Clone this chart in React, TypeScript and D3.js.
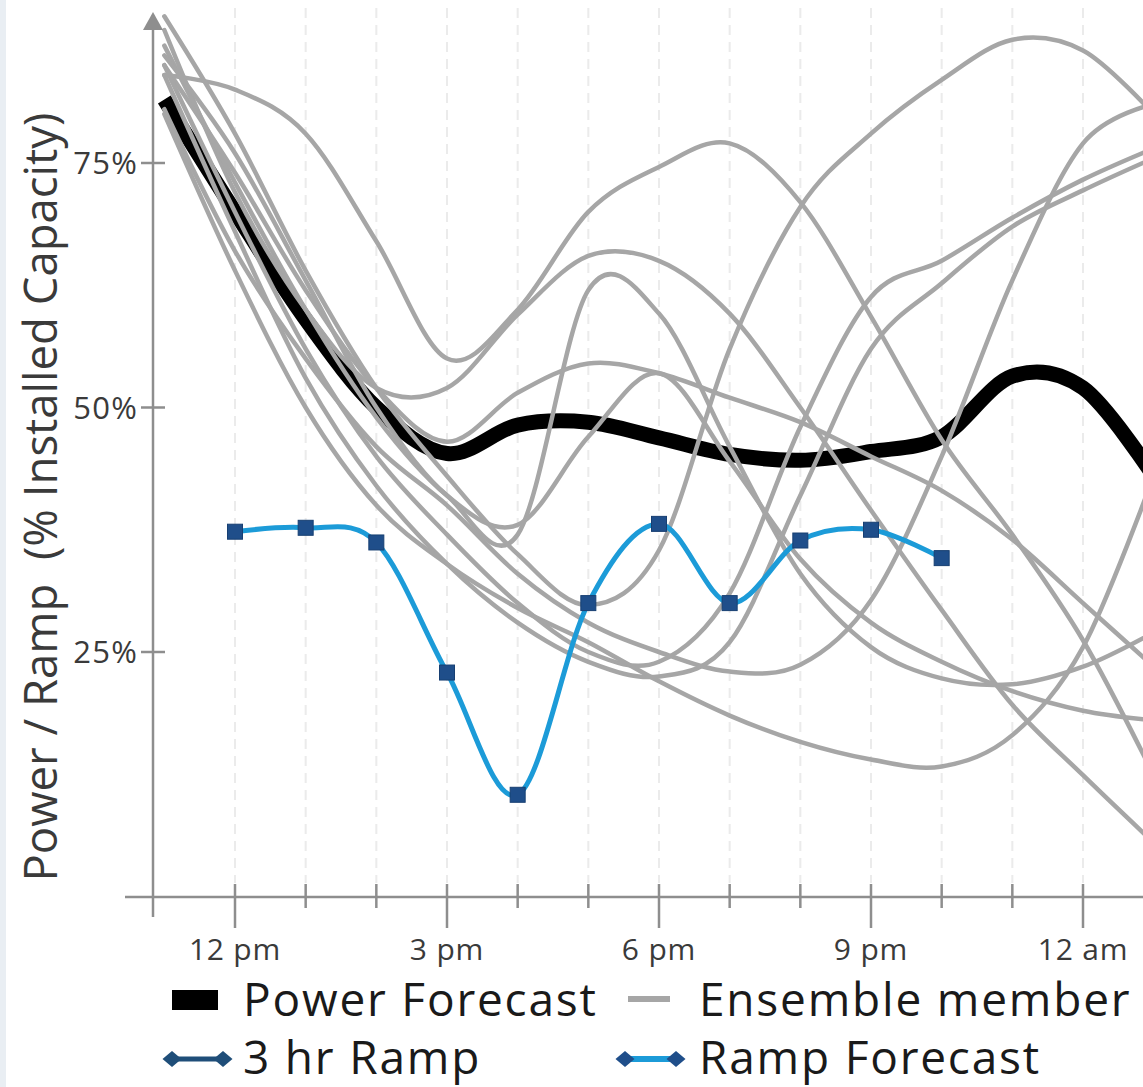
import React from "react";
import * as d3 from "d3";

// ---------- data ----------
const hours = [11, 12, 13, 14, 15, 16, 17, 18, 19, 20, 21, 22, 23, 24, 25];

const powerForecast = [81.5, 70, 59, 50, 45.3, 48.2, 48.5, 46.9, 45.2, 44.6, 45.5, 47, 53.2, 52, 43];

const ensemble1 = [84, 82.5, 78, 67, 55, 60, 70, 74.6, 77, 71, 59.3, 46.7, 37, 26.2, 12.4];
const ensemble2 = [88.6, 72, 60, 52, 52, 59.5, 65.5, 65, 59.6, 50, 39.5, 29.3, 19.6, 12.4, 5.5];
const ensemble3 = [87, 73, 60, 49, 41, 37, 62, 59.6, 46, 33, 25.5, 22.3, 21.7, 23.5, 27];
const ensemble4 = [85, 74, 62, 52, 46.5, 51.5, 54.5, 53.5, 51, 48.5, 45, 41.5, 36.5, 30, 23.5];
const ensemble5 = [86, 76, 63, 50, 41, 38, 47, 53.5, 44.5, 34.5, 28, 24, 21, 19, 18];
const ensemble6 = [90, 78, 64, 52, 43, 35, 29.8, 35.4, 56, 70.5, 78, 83.5, 87.6, 86.5, 80];
const ensemble7 = [80.5, 66, 55, 46, 40, 33, 28, 25, 23, 23.7, 30.3, 45, 63, 77, 81];
const ensemble8 = [85, 70, 56, 45, 37, 30, 25, 24, 31, 48, 61.3, 65, 69.4, 73.3, 76.5];
const ensemble9 = [84, 68, 53, 42, 34, 28, 24, 22.5, 26, 41, 56, 62.7, 68.5, 72.2, 75.5];
const ensemble10 = [80, 64, 50, 40, 34, 29.5, 26, 22, 18.5, 15.8, 14, 13.3, 16.5, 25.5, 43];

const ensembleMembers = [
  ensemble1, ensemble2, ensemble3, ensemble4, ensemble5,
  ensemble6, ensemble7, ensemble8, ensemble9, ensemble10,
];

const rampHours = [12, 13, 14, 15, 16, 17, 18, 19, 20, 21, 22];
const rampForecast = [37.3, 37.7, 36.2, 22.9, 10.4, 30, 38.1, 30, 36.4, 37.5, 34.6];

const majorTickHours = [12, 15, 18, 21, 24];
const majorTickLabels = ["12 pm", "3 pm", "6 pm", "9 pm", "12 am"];
const minorTickHours = [13, 14, 16, 17, 19, 20, 22, 23, 25];
const gridHours = [12, 13, 14, 15, 16, 17, 18, 19, 20, 21, 22, 23, 24, 25];

const yTickValues = [25, 50, 75];
const yTickLabels = ["25%", "50%", "75%"];

const yAxisTitle = "Power / Ramp  (% Installed Capacity)";
const legendLabels = ["Power Forecast", "Ensemble member", "3 hr Ramp", "Ramp Forecast"];

// ---------- styles ----------
const FONT = "'Open Sans', 'Noto Sans', 'DejaVu Sans', sans-serif";
const AXIS = "#8e8e8e";
const GRAY = "#a6a6a6";
const LIGHT_BLUE = "#1c9bd8";
const DARK_BLUE = "#1f4e8a";

export default function App() {
  const W = 1143;
  const H = 1087;

  const x = d3.scaleLinear().domain([12, 24]).range([235, 1083]);
  const y = d3.scaleLinear().domain([0, 75]).range([896.5, 163]);

  const axisX = 153;
  const axisY = 897;

  const seriesLine = d3
    .line<number>()
    .x((_, i) => x(hours[i]))
    .y((d) => y(d))
    .curve(d3.curveCatmullRom.alpha(0));

  const rampLine = d3
    .line<number>()
    .x((_, i) => x(rampHours[i]))
    .y((d) => y(d))
    .curve(d3.curveCatmullRom.alpha(0));

  const diamond = (cx: number, cy: number, hw: number, hh: number) =>
    `M${cx - hw},${cy} L${cx},${cy - hh} L${cx + hw},${cy} L${cx},${cy + hh} Z`;

  const legendText = { fontFamily: FONT, fontSize: 46, fill: "#1a1a1a", letterSpacing: 1.8 } as const;

  return (
    <svg
      width={W}
      height={H}
      viewBox={`0 0 ${W} ${H}`}
      style={{ position: "absolute", left: 0, top: 0, display: "block", background: "#fff" }}
    >
      <rect x={0} y={0} width={W} height={H} fill="#ffffff" />
      <rect x={0} y={0} width={6} height={H} fill="#e9eef3" />

      <defs>
        <clipPath id="plotClip">
          <rect x={axisX} y={0} width={W - axisX} height={axisY} />
        </clipPath>
      </defs>

      {/* vertical dashed grid */}
      {gridHours.map((h) => (
        <line
          key={"g" + h}
          x1={x(h)}
          x2={x(h)}
          y1={8}
          y2={883}
          stroke="#ebebeb"
          strokeWidth={2}
          strokeDasharray="10,7"
        />
      ))}

      <g clipPath="url(#plotClip)">
        {/* power forecast */}
        <path
          d={seriesLine(powerForecast) || ""}
          fill="none"
          stroke="#000"
          strokeWidth={15}
          strokeLinejoin="round"
        />
        {/* ensemble members */}
        {ensembleMembers.map((s, i) => (
          <path
            key={"e" + i}
            d={seriesLine(s) || ""}
            fill="none"
            stroke={GRAY}
            strokeWidth={4.5}
            strokeLinecap="round"
          />
        ))}
        {/* ramp forecast */}
        <path
          d={rampLine(rampForecast) || ""}
          fill="none"
          stroke={LIGHT_BLUE}
          strokeWidth={5}
          strokeLinecap="round"
        />
        {rampForecast.map((v, i) => (
          <rect
            key={"m" + i}
            x={x(rampHours[i]) - 7.5}
            y={y(v) - 7.5}
            width={15}
            height={15}
            fill={DARK_BLUE}
            stroke="#173f72"
            strokeWidth={1}
          />
        ))}
      </g>

      {/* y axis */}
      <line x1={axisX} x2={axisX} y1={917} y2={26} stroke={AXIS} strokeWidth={2.5} />
      <polygon points={`${axisX},12 ${axisX - 10},30 ${axisX + 10},30`} fill={AXIS} />
      {yTickValues.map((v, i) => (
        <g key={"yt" + v}>
          <line x1={axisX - 12} x2={axisX + 12} y1={y(v)} y2={y(v)} stroke={AXIS} strokeWidth={2.5} />
          <text
            x={138}
            y={y(v)}
            dy="0.36em"
            textAnchor="end"
            fontFamily={FONT}
            fontSize={31}
            letterSpacing={1.2}
            fill="#3a3a3a"
          >
            {yTickLabels[i]}
          </text>
        </g>
      ))}

      {/* x axis */}
      <line x1={125} x2={W} y1={axisY} y2={axisY} stroke={AXIS} strokeWidth={2.5} />
      {minorTickHours.map((h) => (
        <line key={"mt" + h} x1={x(h)} x2={x(h)} y1={884} y2={908} stroke={AXIS} strokeWidth={2.5} />
      ))}
      {majorTickHours.map((h, i) => (
        <g key={"Mt" + h}>
          <line x1={x(h)} x2={x(h)} y1={884} y2={928} stroke={AXIS} strokeWidth={2.5} />
          <text
            x={x(h)}
            y={960}
            textAnchor="middle"
            fontFamily={FONT}
            fontSize={30}
            letterSpacing={0.8}
            fill="#3a3a3a"
          >
            {majorTickLabels[i]}
          </text>
        </g>
      ))}

      {/* y axis title */}
      <text
        transform={`translate(57,497) rotate(-90)`}
        textAnchor="middle"
        fontFamily={FONT}
        fontSize={45.5}
        fill="#3a3a3a"
        style={{ whiteSpace: "pre" }}
      >
        {yAxisTitle}
      </text>

      {/* legend */}
      <rect x={172} y={990} width={46} height={20} fill="#000" />
      <text x={243} y={1016} {...legendText}>
        {legendLabels[0]}
      </text>
      <line x1={628} x2={670} y1={999} y2={999} stroke={GRAY} strokeWidth={6} />
      <text x={699} y={1016} {...legendText}>
        {legendLabels[1]}
      </text>

      <line x1={172} x2={223} y1={1059} y2={1059} stroke="#1f4e79" strokeWidth={5} />
      <path d={diamond(172, 1059, 9.5, 8)} fill="#1f4e79" />
      <path d={diamond(223, 1059, 9.5, 8)} fill="#1f4e79" />
      <text x={243} y={1074} {...legendText}>
        {legendLabels[2]}
      </text>

      <line x1={625} x2={676} y1={1059} y2={1059} stroke={LIGHT_BLUE} strokeWidth={6} />
      <path d={diamond(625, 1059, 9.5, 8)} fill={DARK_BLUE} />
      <path d={diamond(676, 1059, 9.5, 8)} fill={DARK_BLUE} />
      <text x={699} y={1074} {...legendText}>
        {legendLabels[3]}
      </text>
    </svg>
  );
}
